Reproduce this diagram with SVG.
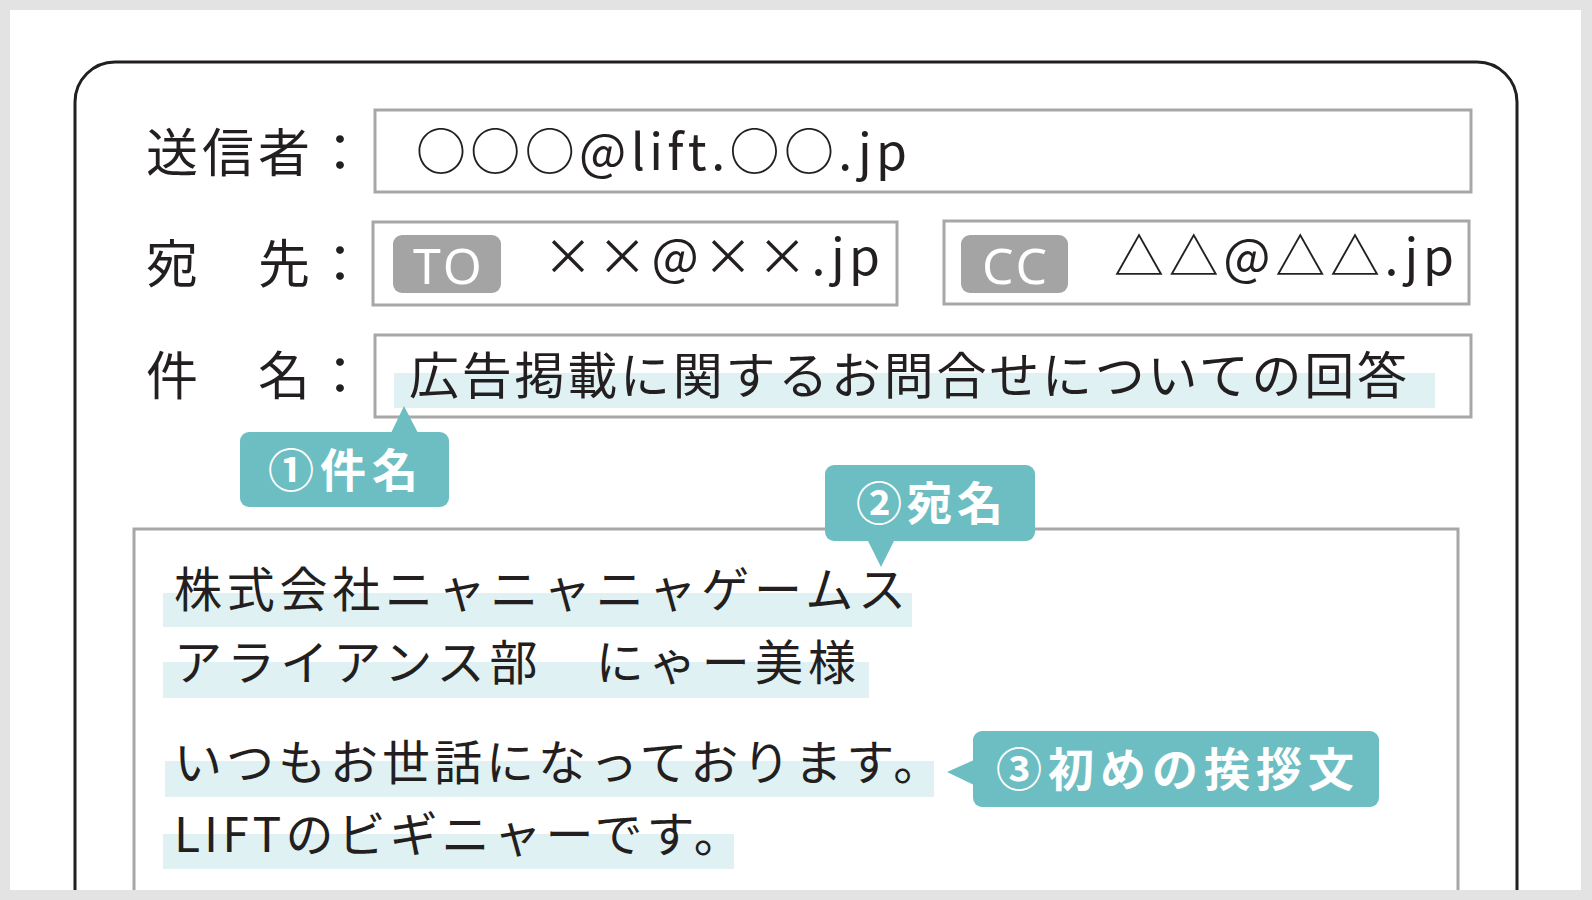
<svg xmlns="http://www.w3.org/2000/svg" width="1592" height="900" viewBox="0 0 1592 900">
<style>
.jp{font-family:'Noto Sans CJK JP','Noto Sans',sans-serif;fill:#231f20}
.lbl{font-size:52px;letter-spacing:4px}
.mail{font-size:50px}
.body{font-size:48px;letter-spacing:4px}
.field{fill:#fff;stroke:#a7a7a7;stroke-width:3}
.badge{fill:#a4a4a4}
.badgetxt{font-family:'Noto Sans','DejaVu Sans',sans-serif;font-size:50px;fill:#fff;text-anchor:middle;letter-spacing:3px}
.hl{fill:#dff1f2}
.call{fill:#6dbec3}
.calltxt{font-family:'Noto Sans CJK JP',sans-serif;font-size:46px;font-weight:700;fill:#fff}
</style>
<rect x="0" y="0" width="1592" height="900" fill="#e3e3e3"/>
<rect x="10" y="10" width="1571" height="880" fill="#fff"/>
<path id="frame" d="M75,890 V102 A40,40 0 0 1 115,62 H1477 A40,40 0 0 1 1517,102 V890" fill="none" stroke="#231f20" stroke-width="3"/>

<g id="sender-row">
<text class="jp lbl" x="146" y="172">送信者：</text>
<rect class="field" x="375" y="110" width="1096" height="82"/>
<text class="jp mail" x="416" y="170" textLength="491" lengthAdjust="spacing">○○○@lift.○○.jp</text>
</g>

<g id="to-row">
<text class="jp lbl" x="146" y="283">宛　先：</text>
<rect class="field" x="373" y="222" width="524" height="83"/>
<rect class="badge" x="393" y="235" width="108" height="58" rx="9"/>
<text class="badgetxt" x="449" y="284">TO</text>
<text class="jp mail" x="543" y="275" textLength="337" lengthAdjust="spacing">××@××.jp</text>
</g>

<g id="cc-field">
<rect class="field" x="944" y="221" width="525" height="83"/>
<rect class="badge" x="961" y="235" width="107" height="58" rx="9"/>
<text class="badgetxt" x="1016" y="284">CC</text>
<text class="jp mail" x="1114" y="275" textLength="340" lengthAdjust="spacing">△△@△△.jp</text>
</g>

<g id="subject-row">
<text class="jp lbl" x="146" y="395">件　名：</text>
<rect class="field" x="375" y="335" width="1096" height="82"/>
<rect class="hl" x="394" y="373" width="1041" height="35"/>
<text class="jp" font-size="50" x="409" y="394" textLength="998" lengthAdjust="spacing">広告掲載に関するお問合せについての回答</text>
</g>

<g id="body">
<path d="M134,890 V529 H1458 V890" fill="none" stroke="#a7a7a7" stroke-width="3"/>
<rect class="hl" x="163" y="593" width="749" height="34"/>
<rect class="hl" x="163" y="662" width="706" height="36"/>
<rect class="hl" x="165" y="761" width="769" height="36"/>
<rect class="hl" x="163" y="834" width="571" height="35"/>
<text class="jp body" x="174" y="607" textLength="736" lengthAdjust="spacing">株式会社ニャニャニャゲームス</text>
<text class="jp body" x="174" y="680" textLength="686" lengthAdjust="spacing">アライアンス部　にゃー美様</text>
<text class="jp body" x="174" y="780">いつもお世話になっております。</text>
<text class="jp body" x="174" y="852">LIFTのビギニャーです。</text>
</g>

<g id="callout-1">
<rect class="call" x="240" y="432" width="209" height="75" rx="9"/>
<text class="calltxt" x="268" y="487" textLength="150" lengthAdjust="spacing">①件名</text>
</g>

<g id="callout-2">
<rect class="call" x="825" y="465" width="210" height="76" rx="9"/>
<text class="calltxt" x="856" y="520" textLength="147" lengthAdjust="spacing">②宛名</text>
</g>

<g id="callout-3">
<rect class="call" x="973" y="731" width="406" height="76" rx="9"/>
<text class="calltxt" x="996" y="786" textLength="358" lengthAdjust="spacing">③初めの挨拶文</text>
</g>

<g id="connectors">
<polygon class="call" points="391,433 404,406 418,433"/>
<polygon class="call" points="867,539 881,567 895,539"/>
<polygon class="call" points="974,760 947,772 974,785"/>
</g>
</svg>
